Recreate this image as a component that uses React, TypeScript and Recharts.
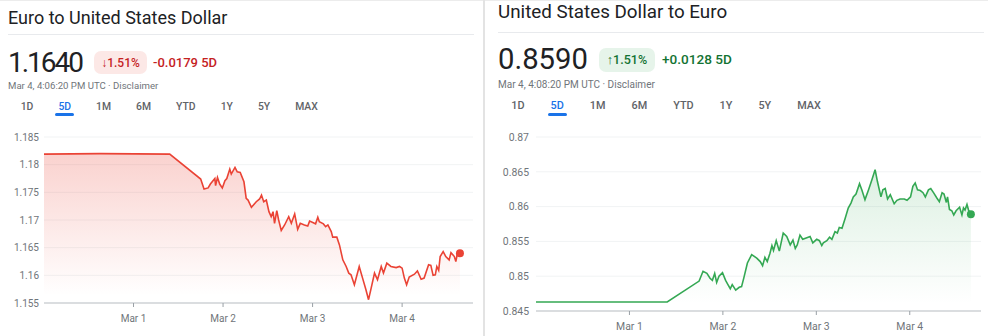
import React from "react";
import { ComposedChart, Area, XAxis, YAxis, CartesianGrid, ReferenceDot } from "recharts";

// hours since Feb 28 00:00 (UTC)
const eurUsdHours = [
  0, 15, 33.7, 42, 42.9, 44, 44.6, 45.3, 45.8, 46, 46.5, 47.1, 47.8, 48.5, 49, 49.8, 50.2, 51.2, 51.8, 52.6,
  53.6, 54.2, 54.7, 55.6, 56.9, 57.8, 58.3, 58.9, 59.6, 60.3, 60.9, 61.4, 61.8, 62.4, 62.9, 63.6, 64.5, 65.6,
  66.3, 67.2, 68, 68.7, 69.8, 70.7, 71.2, 72.2, 72.8, 73.4, 73.8, 74.9, 75.5, 76.1, 77, 77.4, 78.5, 79.2, 80.1,
  81, 81.7, 82.3, 83.2, 84.5, 85.4, 86.3, 87, 87.7, 88.6, 89.4, 90.4, 91, 91.9, 93, 94.4, 95.3, 96, 96.6, 97.2,
  97.9, 99.3, 100.1, 101.1, 101.9, 103.1, 103.7, 104.3, 104.9, 105.3, 105.8, 106.2, 107, 107.7, 108.6, 109.1,
  110, 110.4, 110.8, 111.5,
];
const eurUsdRates = [
  1.1819, 1.182, 1.1819, 1.1774, 1.1756, 1.1758, 1.1765, 1.1771, 1.1775, 1.1762, 1.1777, 1.1765, 1.1758, 1.1771,
  1.1775, 1.1792, 1.1783, 1.1795, 1.1787, 1.1786, 1.1769, 1.1739, 1.1736, 1.1723, 1.1733, 1.1738, 1.1745, 1.1733,
  1.1736, 1.1715, 1.1706, 1.1715, 1.1694, 1.1717, 1.17, 1.1681, 1.1691, 1.1706, 1.1694, 1.1711, 1.1683, 1.1694,
  1.1691, 1.1689, 1.1698, 1.1695, 1.1693, 1.1705, 1.1697, 1.1693, 1.1688, 1.1691, 1.1679, 1.1669, 1.1669, 1.1655,
  1.1628, 1.1616, 1.1604, 1.1601, 1.1583, 1.1616, 1.1595, 1.1574, 1.1556, 1.1577, 1.1604, 1.1592, 1.1616, 1.1604,
  1.1622, 1.1616, 1.1614, 1.1616, 1.1613, 1.1595, 1.1583, 1.1597, 1.1602, 1.1608, 1.1593, 1.1595, 1.1619, 1.1618,
  1.16, 1.1601, 1.1616, 1.1609, 1.1634, 1.1643, 1.1634, 1.1628, 1.1641, 1.1634, 1.1625, 1.1639, 1.164,
];

const usdEurHours = [
  0, 33.7, 41.9, 42.9, 43.9, 44.7, 45.3, 45.9, 46.4, 47, 47.9, 48.7, 49.3, 49.9, 50.4, 51.3, 52.2, 52.8, 53.4,
  54.3, 55.4, 56.7, 57.6, 58.2, 58.8, 59.4, 60.1, 60.6, 61, 61.7, 62.5, 63.5, 64.4, 65.3, 66, 66.6, 67.1, 67.8,
  68.5, 69.4, 70.4, 71.1, 72.1, 72.8, 73.4, 73.8, 74.7, 75.4, 76, 76.8, 77.4, 77.9, 78.6, 79.4, 80.2, 80.9, 81.5,
  82.2, 83.1, 83.7, 84.5, 85.4, 86.3, 87.1, 87.7, 88.6, 89.1, 89.7, 90.3, 91, 92, 92.7, 93.5, 94.6, 95.3, 96.2,
  96.8, 97.4, 98, 98.7, 99.4, 100, 100.8, 101.4, 102.1, 103, 103.6, 104.3, 104.8, 105.4, 105.7, 106.2, 106.8,
  107.3, 107.9, 108.8, 109.4, 109.8, 110.2, 110.7, 111.1, 111.7,
];
const usdEurRates = [
  0.8463, 0.8463, 0.8493, 0.8507, 0.8504, 0.8497, 0.8494, 0.8504, 0.8491, 0.85, 0.8505, 0.8494, 0.8488, 0.8482,
  0.8488, 0.848, 0.8484, 0.8485, 0.8498, 0.8519, 0.8531, 0.8526, 0.8521, 0.8515, 0.8527, 0.8521, 0.8533, 0.8544,
  0.8537, 0.8551, 0.8536, 0.8562, 0.8557, 0.8545, 0.8552, 0.854, 0.8545, 0.8559, 0.8553, 0.8555, 0.8557, 0.8548,
  0.8553, 0.8551, 0.8544, 0.8548, 0.8551, 0.8556, 0.8553, 0.8564, 0.8562, 0.857, 0.8569, 0.8583, 0.8598, 0.8605,
  0.8614, 0.8618, 0.8633, 0.8624, 0.861, 0.8624, 0.8639, 0.8653, 0.8636, 0.8614, 0.8624, 0.8626, 0.8611, 0.8617,
  0.8604, 0.8609, 0.8611, 0.8611, 0.8609, 0.8614, 0.8629, 0.8634, 0.8624, 0.8623, 0.862, 0.8614, 0.8624, 0.8626,
  0.862, 0.8612, 0.8607, 0.862, 0.8618, 0.8606, 0.8614, 0.8596, 0.8594, 0.8588, 0.8594, 0.8599, 0.8588, 0.8598,
  0.8595, 0.8603, 0.8595, 0.8589,
];

const dayTicks = [24, 48, 72, 96];
const dayLabels = ["Mar 1", "Mar 2", "Mar 3", "Mar 4"];
const eurUsdTicks = [1.155, 1.16, 1.165, 1.17, 1.175, 1.18, 1.185];
const usdEurTicks = [0.845, 0.85, 0.855, 0.86, 0.865, 0.87];
const ranges = ["1D", "5D", "1M", "6M", "YTD", "1Y", "5Y", "MAX"];

const FONT = 'Roboto, "Noto Sans", Arial, sans-serif';
const RED = "#ea4335";
const GREEN = "#34a853";

const toRows = (hours: number[], rates: number[]) => hours.map((h, i) => ({ h, v: rates[i] }));

function RateChart({ id, rows, ticks, color, top, k, width, height, yWidth, xMax, margin, xHeight }: any) {
  const last = rows[rows.length - 1];
  return (
    <ComposedChart width={width} height={height} data={rows} margin={margin}>
      <defs>
        <linearGradient id={id} x1="0" y1="0" x2="0" y2="1">
          <stop offset="0%" stopColor={color} stopOpacity={top} />
          <stop offset="95%" stopColor={color} stopOpacity={0} />
        </linearGradient>
      </defs>
      <CartesianGrid vertical={false} stroke="#f1f3f4" />
      <XAxis
        type="number"
        dataKey="h"
        domain={[0, xMax]}
        ticks={dayTicks}
        allowDataOverflow
        tickFormatter={(v: number) => dayLabels[dayTicks.indexOf(v)]}
        axisLine={{ stroke: "#bdc1c6" }}
        tickLine={{ stroke: "#9aa0a6" }}
        tickSize={4}
        tickMargin={8}
        height={xHeight}
        tick={{ fontSize: 10 * k, fill: "#70757a", fontFamily: FONT }}
      />
      <YAxis
        domain={[ticks[0], ticks[ticks.length - 1]]}
        ticks={ticks}
        width={yWidth}
        axisLine={false}
        tickLine={false}
        tickSize={0}
        tickMargin={yWidth > 42 ? 5 : 7}
        tick={{ fontSize: 10 * k, fill: "#70757a", fontFamily: FONT }}
      />
      <Area
        type="linear"
        dataKey="v"
        stroke={color}
        strokeWidth={1.6}
        fill={`url(#${id})`}
        dot={false}
        activeDot={false}
        isAnimationActive={false}
      />
      <ReferenceDot x={last.h} y={last.v} r={4} fill={color} stroke="none" />
    </ComposedChart>
  );
}

function Header({ h }: any) {
  const k = h.k;
  const up = h.up;
  return (
    <>
      <div style={{ position: "absolute", left: h.x, top: h.titleTop, fontSize: 18 * k, lineHeight: 1, color: "#202124" }}>
        {h.title}
      </div>
      <div style={{ position: "absolute", left: h.x, top: h.divY, width: h.divW, height: 1, background: "#e8eaed" }} />
      <div
        style={{
          position: "absolute",
          left: h.x,
          top: h.priceTop,
          fontSize: 28 * k,
          lineHeight: 1,
          color: "#202124",
          letterSpacing: h.priceSpacing,
        }}
      >
        {h.price}
      </div>
      <div
        style={{
          position: "absolute",
          left: h.badgeX,
          top: h.badgeY,
          width: h.badgeW,
          height: h.badgeH,
          borderRadius: 7,
          background: up ? "#e6f4ea" : "#fce8e6",
          color: up ? "#137333" : "#c5221f",
          fontSize: 12 * k,
          fontWeight: 500,
          display: "flex",
          alignItems: "center",
          justifyContent: "center",
        }}
      >
        {h.pct}
      </div>
      <div
        style={{
          position: "absolute",
          left: h.changeX,
          top: h.changeTop,
          fontSize: 13 * k,
          lineHeight: 1,
          fontWeight: 500,
          color: up ? "#137333" : "#c5221f",
        }}
      >
        {h.change}
      </div>
      <div style={{ position: "absolute", left: h.x, top: h.stampTop, fontSize: 9.6 * k, lineHeight: 1, color: "#70757a" }}>
        {h.stamp}
      </div>
      <div
        style={{
          position: "absolute",
          left: h.tabsX,
          top: h.tabsTop,
          display: "flex",
          gap: h.tabGap,
          fontSize: 10.4 * k,
          lineHeight: 1,
          fontWeight: 500,
          color: "#5f6368",
        }}
      >
        {ranges.map((r) => (
          <span key={r} style={{ position: "relative", color: r === "5D" ? "#1a73e8" : "#5f6368" }}>
            {r}
            {r === "5D" && (
              <span
                style={{
                  position: "absolute",
                  left: -3,
                  right: -3,
                  top: 113 - h.tabsTop,
                  height: 3,
                  borderRadius: 2,
                  background: "#1a73e8",
                }}
              />
            )}
          </span>
        ))}
      </div>
    </>
  );
}

export default function App() {
  const eurUsd = toRows(eurUsdHours, eurUsdRates);
  const usdEur = toRows(usdEurHours, usdEurRates);
  return (
    <div style={{ position: "absolute", left: 0, top: 0, width: 988, height: 336, background: "#fff", fontFamily: FONT, overflow: "hidden" }}>
      <div style={{ position: "absolute", left: 0, top: 0, width: 988, height: 1, background: "#ececec" }} />
      <div style={{ position: "absolute", left: 483, top: 0, width: 2, height: 336, background: "#e3e3e3" }} />

      <div style={{ position: "absolute", left: 0, top: 0, width: 483, height: 336 }}>
        <Header
          h={{
            k: 1, up: false, x: 8, title: "Euro to United States Dollar", titleTop: 8.9, divY: 34, divW: 466,
            price: "1.1640", priceTop: 49.4, priceSpacing: -2, badgeX: 94, badgeY: 51, badgeW: 53, badgeH: 23, pct: "↓1.51%",
            changeX: 153, changeTop: 55.8, change: "-0.0179 5D", stampTop: 81.4,
            stamp: "Mar 4, 4:06:20 PM UTC · Disclaimer", tabsX: 20.7, tabsTop: 101.9, tabGap: 25,
          }}
        />
        <div style={{ position: "absolute", left: 0, top: 120 }}>
          <RateChart
            id="eurFill" rows={eurUsd} ticks={eurUsdTicks} color={RED} top={0.4} k={1}
            width={483} height={216} yWidth={44} xMax={115} xHeight={33}
            margin={{ top: 17, right: 10, left: 0, bottom: 0 }}
          />
        </div>
      </div>

      <div style={{ position: "absolute", left: 494, top: 0, width: 494, height: 336 }}>
        <Header
          h={{
            k: 1.045, up: true, x: 4, title: "United States Dollar to Euro", titleTop: 3.2, divY: 31.5, divW: 486,
            price: "0.8590", priceTop: 45.4, priceSpacing: 0, badgeX: 105, badgeY: 47.7, badgeW: 56, badgeH: 24.6, pct: "↑1.51%",
            changeX: 168, changeTop: 52.7, change: "+0.0128 5D", stampTop: 80.1,
            stamp: "Mar 4, 4:08:20 PM UTC · Disclaimer", tabsX: 17.3, tabsTop: 100.8, tabGap: 26,
          }}
        />
        <div style={{ position: "absolute", left: 0, top: 120 }}>
          <RateChart
            id="usdFill" rows={usdEur} ticks={usdEurTicks} color={GREEN} top={0.28} k={1.045}
            width={494} height={216} yWidth={42} xMax={114.3} xHeight={25}
            margin={{ top: 17, right: 7, left: 0, bottom: 0 }}
          />
        </div>
      </div>
    </div>
  );
}
